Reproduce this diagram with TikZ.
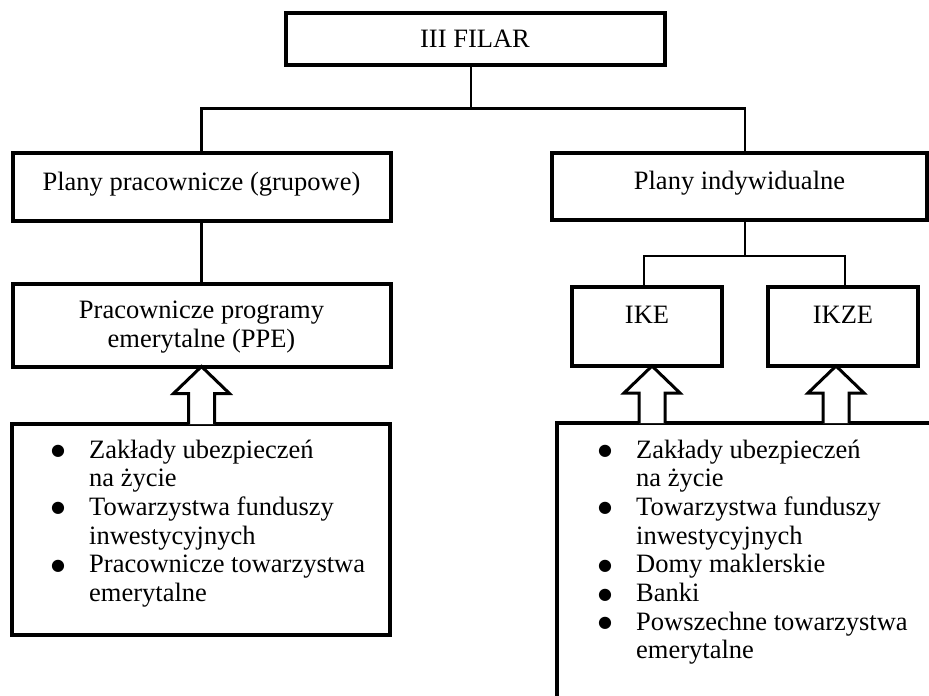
\documentclass[tikz,border=0pt]{standalone}
\usepackage{fontspec}
\setmainfont{Liberation Serif}
\newfontfamily\symfont{DejaVu Sans}
\usetikzlibrary{calc}
\tikzset{
    box/.style={draw, line width=4pt, inner sep=0pt, outer sep=0pt, anchor=north west, align=center},
    conn/.style={line width=2.5pt},
    fatarr/.style={line width=3pt, fill=white, line join=miter},
    lst/.style={inner sep=0pt, anchor=base west}
}
\newcommand{\fatarrow}[2]{%
    \draw[fatarr] let \p1=(#1), \p2=(#2) in
        (\x2-13pt,\y1) -- (\x2-13pt,\y2-27pt) -- (\x2-28pt,\y2-27pt) -- (\x2,\y2)
        -- (\x2+28pt,\y2-27pt) -- (\x2+13pt,\y2-27pt) -- (\x2+13pt,\y1);}
\newcommand{\pkt}{\makebox[10pt][c]{\raisebox{2.5pt}{\symfont\fontsize{16}{18}\selectfont ●}}}
\begin{document}
\begin{tikzpicture}[x=1pt, y=-1pt, font=\fontsize{26.5}{28.7}\selectfont]
    \useasboundingbox (0,0) rectangle (929,696);
    \node[box, minimum width=379, minimum height=52, text height=34.5pt, text depth=17.5pt] (fil) at (285.5,12.5) {III FILAR};
    \node[box, minimum width=378, minimum height=68, text height=37.5pt, text depth=30.5pt] (ppr) at (12.5,152.5) {Plany pracownicze (grupowe)};
    \node[box, minimum width=375, minimum height=67.5, text height=36.5pt, text depth=31pt] (pin) at (552,152.5) {Plany indywidualne};
    \node[box, minimum width=378, minimum height=83, text height=63.5pt, text depth=19.5pt] (ppe) at (12.5,283.5) {Pracownicze programy\\emerytalne (PPE)};
    \node[box, minimum width=150, minimum height=79, text height=36pt, text depth=43pt] (ike) at (572,287) {IKE};
    \node[box, minimum width=150, minimum height=79, text height=36pt, text depth=43pt] (ikze) at (768,287) {IKZE};
    \node[box, minimum width=378, minimum height=211] (ppebox) at (12,424) {};
    \node[box, minimum width=500, minimum height=400] (instbox) at (557,423) {};
    \node[lst] (ppelst) at (53,458) {\begin{tabular}[t]{@{}p{36pt}@{}l@{}}
        \pkt & Zakłady ubezpieczeń\\ & na życie\\
        \pkt & Towarzystwa funduszy\\ & inwestycyjnych\\
        \pkt & Pracownicze towarzystwa\\ & emerytalne
    \end{tabular}};
    \node[lst] (instlst) at (600,458) {\begin{tabular}[t]{@{}p{36pt}@{}l@{}}
        \pkt & Zakłady ubezpieczeń\\ & na życie\\
        \pkt & Towarzystwa funduszy\\ & inwestycyjnych\\
        \pkt & Domy maklerskie\\
        \pkt & Banki\\
        \pkt & Powszechne towarzystwa\\ & emerytalne
    \end{tabular}};
    \draw[conn] ([xshift=-4]fil.south) -- ++(0,44) coordinate (split);
    \draw[conn] (ppr.north) |- (split) -| ([xshift=5.5]pin.north);
    \draw[conn] (ppr.south) -- (ppe.north);
    \draw[conn] ([xshift=5.5]pin.south) -- ++(0,36) coordinate (split2);
    \draw[conn] ([xshift=-3]ike.north) |- (split2) -| ([xshift=2]ikze.north);
    \fatarrow{ppebox.north}{ppe.south}
    \fatarrow{instbox.north}{[xshift=5]ike.south}
    \fatarrow{instbox.north}{[xshift=-7]ikze.south}
\end{tikzpicture}
\end{document}
